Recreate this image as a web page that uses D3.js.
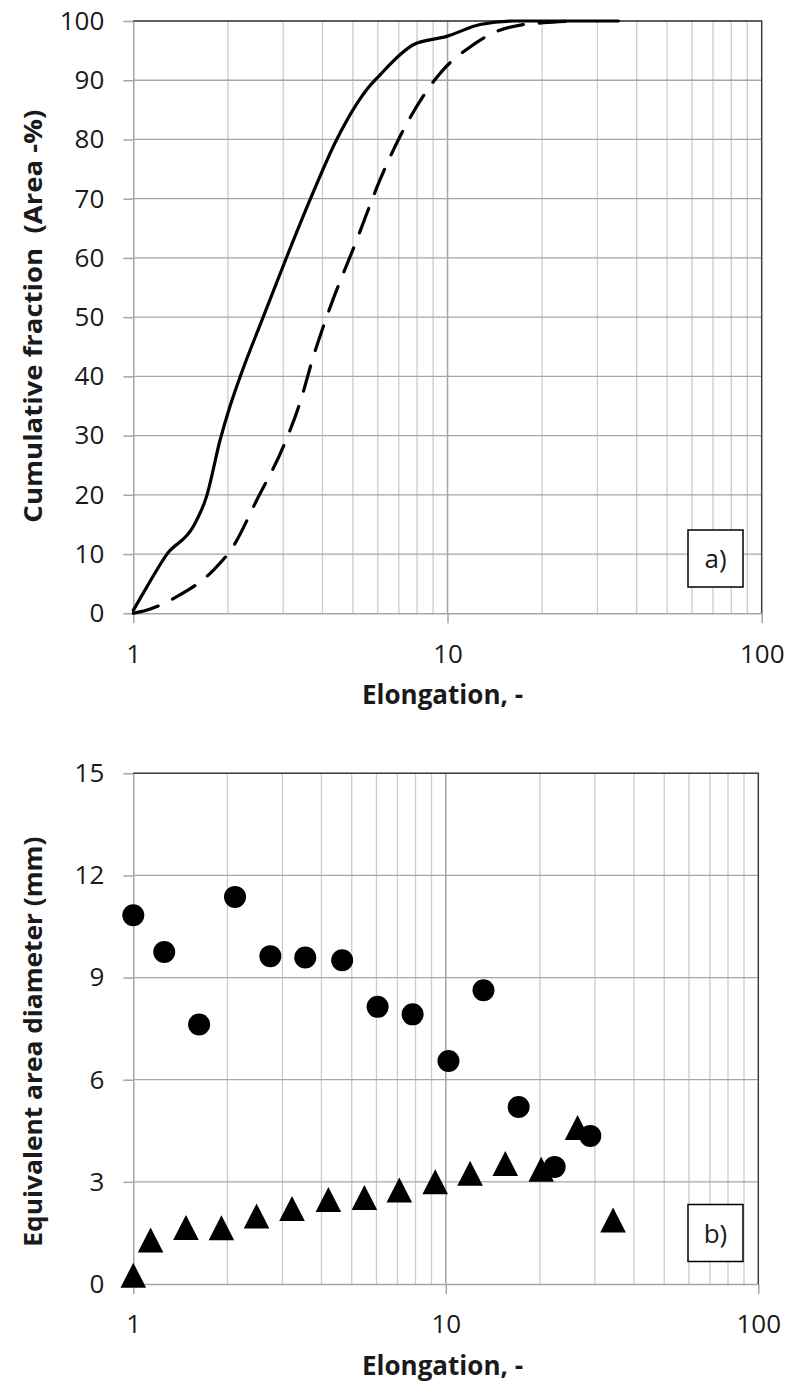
<!DOCTYPE html>
<html>
<head>
<meta charset="utf-8">
<script src="https://cdn.jsdelivr.net/npm/d3@7"></script>
<style>
  body { margin: 0; background: #fff; }
  svg { display: block; font-family: "Open Sans", sans-serif; }
  .tick text { font-size: 26px; fill: #1a1a1a; }
  .axis-title { font-weight: bold; fill: #1a1a1a; white-space: pre; }
</style>
</head>
<body>
<div id="chart"></div>
<script>
// panel a) cumulative curves
const solidE = [1.0, 1.1, 1.28, 1.55, 1.71, 1.89, 2.03, 2.19, 2.59, 3.08, 3.65, 4.44, 5.53, 6.1, 7.06, 7.78, 9.94, 12.7, 16.2, 35];
const solidF = [0.5, 4.3, 10, 14.6, 19.7, 29.3, 34.9, 40, 50, 60.2, 69.8, 80, 88.4, 90.9, 94.3, 96, 97.4, 99.4, 100, 100];
const dashE = [1.0, 1.1, 1.375, 1.8, 2.08, 2.47, 3.0, 3.39, 3.74, 4.2, 5.14, 6.1, 7.06, 8.37, 9.7, 11.5, 14.0, 17.4, 20.2, 25];
const dashF = [0, 0.5, 2.8, 7.3, 11.3, 19.1, 28.1, 35.5, 43.3, 51.2, 63, 73.2, 80.5, 87.3, 91.8, 95.2, 98, 99.4, 99.7, 100];
const fracTicks = [0, 10, 20, 30, 40, 50, 60, 70, 80, 90, 100];

// panel b) equivalent area diameter
const circE = [1.0, 1.256, 1.624, 2.116, 2.745, 3.55, 4.66, 6.05, 7.83, 10.2, 13.2, 17.1, 22.3, 29.0];
const circD = [10.83, 9.75, 7.62, 11.37, 9.63, 9.59, 9.51, 8.14, 7.92, 6.55, 8.63, 5.2, 3.44, 4.35];
const triE = [1.0, 1.136, 1.474, 1.914, 2.48, 3.22, 4.21, 5.49, 7.1, 9.25, 11.96, 15.5, 20.2, 26.4, 34.3];
const triD = [0.26, 1.29, 1.66, 1.65, 2.0, 2.22, 2.48, 2.54, 2.76, 3.0, 3.25, 3.54, 3.37, 4.6, 1.88];
const diamTicks = [0, 3, 6, 9, 12, 15];

const xTicks = [1, 10, 100];
const xMinor = [2, 3, 4, 5, 6, 7, 8, 9, 10, 20, 30, 40, 50, 60, 70, 80, 90];

const W = 791, H = 1387;
const svg = d3.select('#chart').append('svg')
    .attr('width', W)
    .attr('height', H);

function panel(box, yDomain, yTicks, yTitle, tag) {
    const x = d3.scaleLog().domain([1, 100]).range([box.left, box.right]);
    const y = d3.scaleLinear().domain(yDomain).range([box.bottom, box.top]);
    const g = svg.append('g');

    // grid
    g.selectAll('.vgrid')
        .data(xMinor)
        .enter()
        .append('line')
        .attr('x1', d => x(d)).attr('x2', d => x(d))
        .attr('y1', box.top).attr('y2', box.bottom)
        .attr('stroke', d => d === 10 ? '#a9a9a9' : '#cccccc')
        .attr('stroke-width', d => d === 10 ? 1.6 : 1.3);
    g.selectAll('.hgrid')
        .data(yTicks.slice(1))
        .enter()
        .append('line')
        .attr('x1', box.left).attr('x2', box.right)
        .attr('y1', d => y(d)).attr('y2', d => y(d))
        .attr('stroke', '#a6a6a6')
        .attr('stroke-width', 1.3);

    // axes
    const yAxis = g.append('g')
        .attr('transform', 'translate(' + box.left + ',0)')
        .call(d3.axisLeft(y).tickValues(yTicks).tickSize(10).tickPadding(19).tickSizeOuter(0));
    const xAxis = g.append('g')
        .attr('transform', 'translate(0,' + box.bottom + ')')
        .call(d3.axisBottom(x).tickValues(xTicks).tickFormat(d3.format('d')).tickSize(10).tickPadding(21).tickSizeOuter(0));
    [xAxis, yAxis].forEach(a => {
        a.select('.domain').attr('stroke', '#a6a6a6').attr('stroke-width', 1.5);
        a.selectAll('.tick line').attr('stroke', '#a6a6a6').attr('stroke-width', 1.5);
        a.attr('font-family', null).attr('font-size', null);
    });

    // top and right border
    g.append('path')
        .attr('d', 'M' + box.left + ',' + box.top + 'H' + box.right + 'V' + box.bottom)
        .attr('fill', 'none')
        .attr('stroke', '#404040')
        .attr('stroke-width', 1.5);

    // titles
    g.append('text')
        .attr('class', 'axis-title')
        .attr('font-size', 26)
        .attr('x', 442.5)
        .attr('y', box.bottom + 91)
        .attr('text-anchor', 'middle')
        .attr('textLength', 161)
        .attr('lengthAdjust', 'spacingAndGlyphs')
        .text('Elongation, -');
    g.append('text')
        .attr('class', 'axis-title')
        .attr('font-size', 25)
        .attr('transform', 'translate(42,' + ((box.top + box.bottom) / 2 + box.shiftTitle) + ') rotate(-90)')
        .attr('text-anchor', 'middle')
        .attr('textLength', box.titleLen)
        .attr('lengthAdjust', 'spacingAndGlyphs')
        .text(yTitle);

    return { g: g, x: x, y: y, tag: tag, box: box };
}

function tagBox(p, top) {
    p.g.append('rect')
        .attr('x', 688).attr('y', top)
        .attr('width', 55).attr('height', 57)
        .attr('fill', '#fff')
        .attr('stroke', '#000')
        .attr('stroke-width', 1.5);
    p.g.append('text')
        .attr('x', 715.5).attr('y', top + 38)
        .attr('text-anchor', 'middle')
        .attr('font-size', 26)
        .attr('fill', '#1a1a1a')
        .text(p.tag);
}

// ---- a)
const pa = panel({ left: 133.3, right: 761.7, top: 21, bottom: 613.3, shiftTitle: -1, titleLen: 413 }, [0, 100], fracTicks,
    'Cumulative fraction  (Area -%)', 'a)');

const line = d3.line()
    .x(d => pa.x(d[0]))
    .y(d => pa.y(d[1]))
    .curve(d3.curveMonotoneX);

pa.g.append('path')
    .attr('d', line(dashE.map((e, i) => [e, dashF[i]])))
    .attr('fill', 'none')
    .attr('stroke', '#000')
    .attr('stroke-width', 3.2)
    .attr('stroke-linecap', 'round')
    .attr('stroke-dasharray', '26,16');
pa.g.append('path')
    .attr('d', line(solidE.map((e, i) => [e, solidF[i]])))
    .attr('fill', 'none')
    .attr('stroke', '#000')
    .attr('stroke-width', 3.2)
    .attr('stroke-linecap', 'round');
tagBox(pa, 530);

// ---- b)
const pb = panel({ left: 133.3, right: 758.3, top: 773.3, bottom: 1284, shiftTitle: 13, titleLen: 410 }, [0, 15], diamTicks,
    'Equivalent area diameter (mm)', 'b)');

pb.g.selectAll('.tri')
    .data(triE.map((e, i) => [e, triD[i]]))
    .enter()
    .append('path')
    .attr('d', d => {
        const cx = pb.x(d[0]), cy = pb.y(d[1]);
        return 'M' + cx + ',' + (cy - 12.5) + 'L' + (cx + 12.8) + ',' + (cy + 12.5) + 'L' + (cx - 12.8) + ',' + (cy + 12.5) + 'Z';
    })
    .attr('fill', '#000');
pb.g.selectAll('.dot')
    .data(circE.map((e, i) => [e, circD[i]]))
    .enter()
    .append('circle')
    .attr('cx', d => pb.x(d[0]))
    .attr('cy', d => pb.y(d[1]))
    .attr('r', 11)
    .attr('fill', '#000');
tagBox(pb, 1204.5);
</script>
</body>
</html>
